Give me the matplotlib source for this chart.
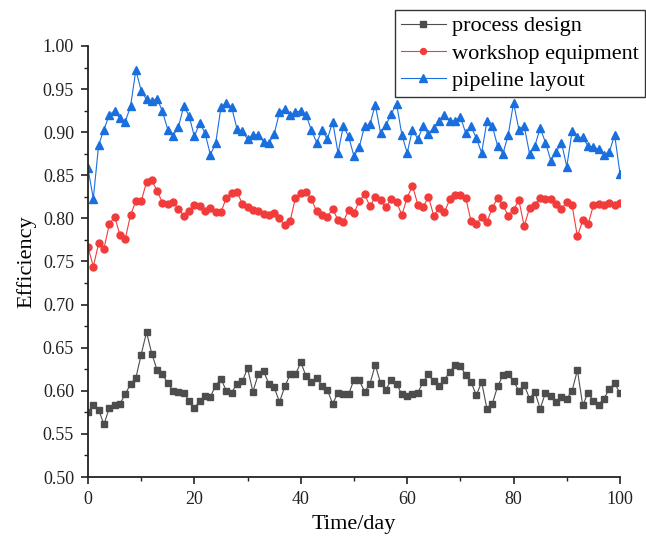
import numpy as np
import matplotlib
matplotlib.use("Agg")
import matplotlib.pyplot as plt
from matplotlib.ticker import MultipleLocator, FormatStrFormatter

days = np.arange(0, 101)

process_design = [
    0.575, 0.583, 0.578, 0.561, 0.580, 0.584, 0.585, 0.596, 0.608, 0.615,
    0.642, 0.668, 0.643, 0.624, 0.619, 0.609, 0.600, 0.599, 0.598, 0.588,
    0.580, 0.588, 0.594, 0.593, 0.606, 0.614, 0.600, 0.598, 0.608, 0.611,
    0.626, 0.599, 0.619, 0.623, 0.608, 0.604, 0.587, 0.605, 0.619, 0.619,
    0.633, 0.617, 0.610, 0.615, 0.606, 0.601, 0.585, 0.598, 0.596, 0.596,
    0.613, 0.612, 0.599, 0.608, 0.630, 0.609, 0.601, 0.613, 0.608, 0.596,
    0.594, 0.596, 0.598, 0.610, 0.619, 0.611, 0.605, 0.613, 0.622, 0.630,
    0.629, 0.618, 0.610, 0.595, 0.610, 0.579, 0.585, 0.605, 0.618, 0.619,
    0.611, 0.600, 0.607, 0.591, 0.599, 0.579, 0.598, 0.594, 0.587, 0.593,
    0.591, 0.600, 0.624, 0.583, 0.598, 0.588, 0.584, 0.591, 0.602, 0.609,
    0.597,
]

workshop_equipment = [
    0.767, 0.744, 0.771, 0.765, 0.793, 0.802, 0.781, 0.776, 0.804, 0.820,
    0.820, 0.842, 0.844, 0.832, 0.818, 0.817, 0.819, 0.811, 0.803, 0.808,
    0.816, 0.814, 0.808, 0.812, 0.807, 0.807, 0.824, 0.829, 0.831, 0.817,
    0.813, 0.810, 0.809, 0.805, 0.804, 0.806, 0.800, 0.792, 0.797, 0.824,
    0.830, 0.831, 0.822, 0.808, 0.804, 0.802, 0.811, 0.798, 0.796, 0.810,
    0.806, 0.820, 0.828, 0.814, 0.825, 0.821, 0.813, 0.822, 0.819, 0.804,
    0.824, 0.838, 0.816, 0.813, 0.825, 0.803, 0.812, 0.807, 0.822, 0.827,
    0.827, 0.824, 0.797, 0.793, 0.802, 0.796, 0.812, 0.824, 0.815, 0.803,
    0.810, 0.821, 0.791, 0.812, 0.816, 0.824, 0.822, 0.822, 0.817, 0.811,
    0.819, 0.815, 0.779, 0.798, 0.793, 0.815, 0.817, 0.815, 0.818, 0.816,
    0.818,
]

pipeline_layout = [
    0.858, 0.823, 0.885, 0.903, 0.920, 0.925, 0.916, 0.912, 0.930, 0.972,
    0.948, 0.938, 0.936, 0.939, 0.924, 0.903, 0.896, 0.906, 0.930, 0.919,
    0.895, 0.911, 0.899, 0.874, 0.887, 0.929, 0.934, 0.929, 0.904, 0.901,
    0.892, 0.897, 0.897, 0.889, 0.887, 0.898, 0.923, 0.927, 0.920, 0.923,
    0.925, 0.920, 0.902, 0.888, 0.902, 0.892, 0.912, 0.876, 0.907, 0.895,
    0.872, 0.883, 0.907, 0.909, 0.932, 0.899, 0.908, 0.921, 0.933, 0.897,
    0.876, 0.903, 0.892, 0.907, 0.898, 0.905, 0.913, 0.920, 0.913, 0.913,
    0.918, 0.899, 0.907, 0.893, 0.876, 0.913, 0.907, 0.884, 0.875, 0.897,
    0.934, 0.903, 0.907, 0.875, 0.884, 0.905, 0.888, 0.867, 0.877, 0.888,
    0.860, 0.901, 0.894, 0.894, 0.884, 0.883, 0.880, 0.874, 0.877, 0.897,
    0.852,
]

plt.rcParams['font.family'] = ['Liberation Serif', 'DejaVu Serif']

fig = plt.figure(figsize=(6.46, 5.39), dpi=100)
ax = fig.add_axes([0.1362, 0.1150, 0.8235, 0.7997])

l1, = ax.plot(days, process_design, color='#4d4d4d', linewidth=0.8,
              marker='s', markersize=4.5, label='process design')
l2, = ax.plot(days, workshop_equipment, color='#f23b3b', linewidth=0.8,
              marker='o', markersize=5, label='workshop equipment')
l3, = ax.plot(days, pipeline_layout, color='#1a6fdf', linewidth=0.8,
              marker='^', markersize=6, label='pipeline layout')

ax.set_xlim(0, 100)
ax.set_ylim(0.50, 1.00)
ax.xaxis.set_major_locator(MultipleLocator(20))
ax.xaxis.set_minor_locator(MultipleLocator(10))
ax.yaxis.set_major_locator(MultipleLocator(0.05))
ax.yaxis.set_minor_locator(MultipleLocator(0.025))
ax.yaxis.set_major_formatter(FormatStrFormatter('%.2f'))

for side in ['top', 'right']:
    ax.spines[side].set_visible(False)
for side in ['left', 'bottom']:
    ax.spines[side].set_linewidth(1.3)
    ax.spines[side].set_color('#222222')

ax.tick_params(which='major', direction='out', length=5, width=1.2,
               labelsize=13, colors='#222222', pad=5)
ax.tick_params(which='minor', direction='out', length=3, width=1.0,
               colors='#222222')

ax.set_xlabel('Time/day', fontsize=16, labelpad=5)
ax.set_ylabel('Efficiency', fontsize=16, labelpad=5)

leg = fig.legend(handles=[l1, l2, l3], loc='upper right',
                 bbox_to_anchor=(0.999, 0.982), fontsize=16,
                 frameon=True, fancybox=False, handlelength=2.0,
                 borderpad=0.28, labelspacing=0.3, handletextpad=0.3,
                 borderaxespad=0.0, markerscale=0.85)
leg.get_frame().set_edgecolor('#000000')
leg.get_frame().set_linewidth(1.0)

fig.savefig('out.png', dpi=100)
